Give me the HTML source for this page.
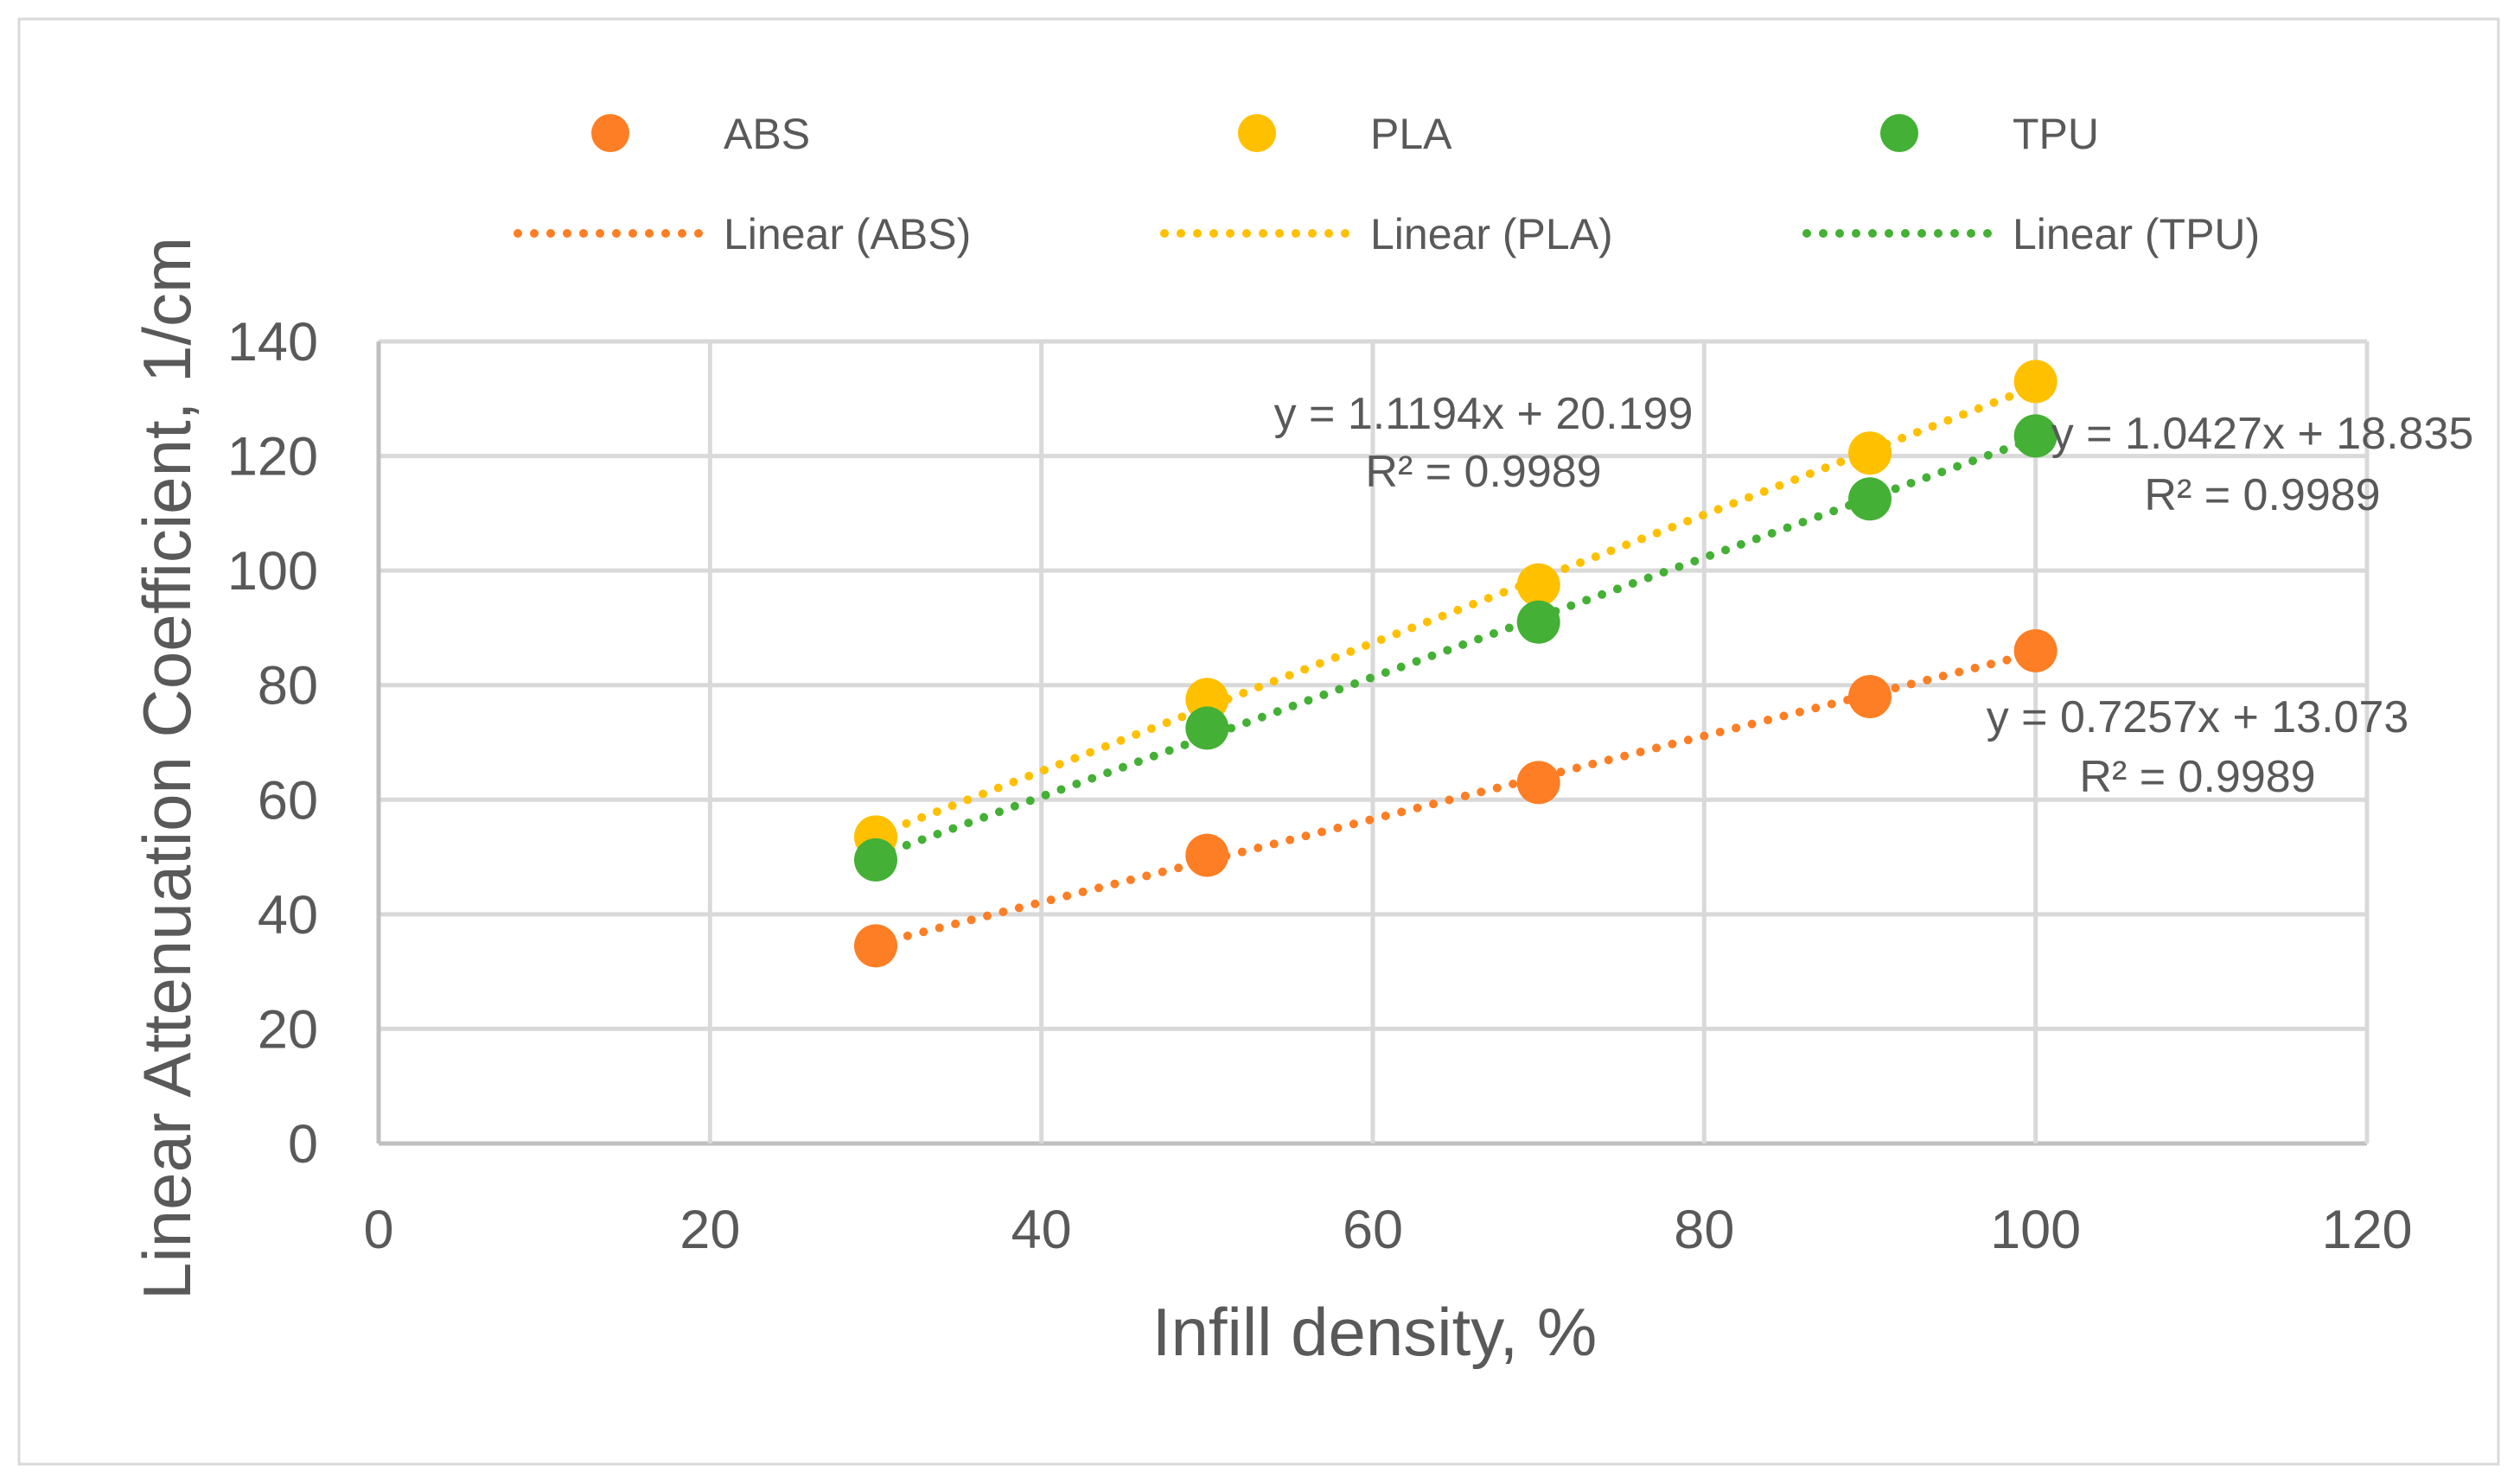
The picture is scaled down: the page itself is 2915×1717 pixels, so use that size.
<!DOCTYPE html>
<html><head><meta charset="utf-8"><style>
html,body{margin:0;padding:0;background:#fff}
svg{display:block;font-family:"Liberation Sans",sans-serif}
</style></head><body>
<svg id="chart" width="2915" height="1717" viewBox="0 0 2915 1717">
<rect x="22" y="22" width="2868" height="1672" fill="#fff" stroke="#d9d9d9" stroke-width="3"/>
<g id="grid"></g>
<g id="ticks" fill="#595959" font-size="63"></g>
<g id="series"></g>
<text x="1590" y="1568" text-anchor="middle" font-size="78" fill="#595959">Infill density, %</text>
<text transform="translate(220,889) rotate(-90)" text-anchor="middle" font-size="78" fill="#595959">Linear Attenuation Coefficient, 1/cm</text>
<g id="legend" font-size="50" fill="#595959"></g>
<g id="eqs" font-size="52" fill="#595959" text-anchor="middle"></g>
</svg>
<script>
const xTicks=[0,20,40,60,80,100,120];
const yTicks=[0,20,40,60,80,100,120,140];
const xVals=[30,50,70,90,100];
const absVals=[34.5,50.3,63,78,86];
const plaVals=[53.5,77.5,97.5,120.5,133];
const tpuVals=[49.5,72.5,91,112.5,123.5];
const seriesNames=["ABS","PLA","TPU"];
const slopes=[0.7257,1.1194,1.0427];
const intercepts=[13.073,20.199,18.835];
const eqLabels=["y = 0.7257x + 13.073","y = 1.1194x + 20.199","y = 1.0427x + 18.835"];
const r2Labels=["R² = 0.9989","R² = 0.9989","R² = 0.9989"];

const NS="http://www.w3.org/2000/svg";
const X0=438,X1=2738,Y0=1323,Y1=395;
const sx=v=>X0+(v-0)/(120-0)*(X1-X0);
const sy=v=>Y0-(v-0)/(140-0)*(Y0-Y1);
function mk(tag,attrs,parent){const e=document.createElementNS(NS,tag);for(const k in attrs)e.setAttribute(k,attrs[k]);parent.appendChild(e);return e;}
const grid=document.getElementById('grid'),ticks=document.getElementById('ticks');
yTicks.forEach(t=>{
 const l=mk('line',{x1:X0,x2:X1,y1:sy(t),y2:sy(t),stroke:t===0?'#bfbfbf':'#d9d9d9','stroke-width':5},grid);
 
 
 const tx=mk('text',{x:368,y:sy(t)+22,'text-anchor':'end'},ticks);tx.textContent=t;
 
 
});
xTicks.forEach(t=>{
 const l=mk('line',{x1:sx(t),x2:sx(t),y1:Y1,y2:Y0,stroke:t===0?'#bfbfbf':'#d9d9d9','stroke-width':5},grid);
 
 
 const tx=mk('text',{x:sx(t),y:1444,'text-anchor':'middle'},ticks);tx.textContent=t;
 
 
});
const colors=["#fd7e24","#ffc000","#44b035"];
const allVals=[absVals,plaVals,tpuVals];
const ser=document.getElementById('series');
allVals.forEach((vals,i)=>{
 const xa=xVals[0],xb=xVals[xVals.length-1];
 const l=mk('line',{x1:sx(xa),y1:sy(slopes[i]*xa+intercepts[i]),x2:sx(xb),y2:sy(slopes[i]*xb+intercepts[i]),stroke:colors[i],'stroke-width':10,'stroke-linecap':'round','stroke-dasharray':'0 19'},ser);
 
 
});
allVals.forEach((vals,i)=>{
 vals.forEach((v,j)=>{
  const c=mk('circle',{cx:sx(xVals[j]),cy:sy(v),r:25,fill:colors[i]},ser);
  
  
 });
});
const leg=document.getElementById('legend');
const lx=[706,1454,2197];
seriesNames.forEach((n,i)=>{
 const c=mk('circle',{cx:lx[i],cy:154,r:22,fill:colors[i]},leg);
 
 
 const t=mk('text',{x:lx[i]+131,y:172},leg);t.textContent=n;
 
 
 const l=mk('line',{x1:lx[i]-107,x2:lx[i]+105,y1:270,y2:270,stroke:colors[i],'stroke-width':10,'stroke-linecap':'round','stroke-dasharray':'0 19'},leg);
 
 
 const t2=mk('text',{x:lx[i]+131,y:288},leg);t2.textContent='Linear ('+n+')';
 
 
});
const eqs=document.getElementById('eqs');
const eqPos=[[2542,847,916],[1716,496,563],[2617,519,590]];
seriesNames.forEach((n,i)=>{
 const e=mk('text',{x:eqPos[i][0],y:eqPos[i][1]},eqs);e.textContent=eqLabels[i];
 
 
 const r=mk('text',{x:eqPos[i][0],y:eqPos[i][2]},eqs);r.textContent=r2Labels[i];
 
 
});
</script>
</body></html>
